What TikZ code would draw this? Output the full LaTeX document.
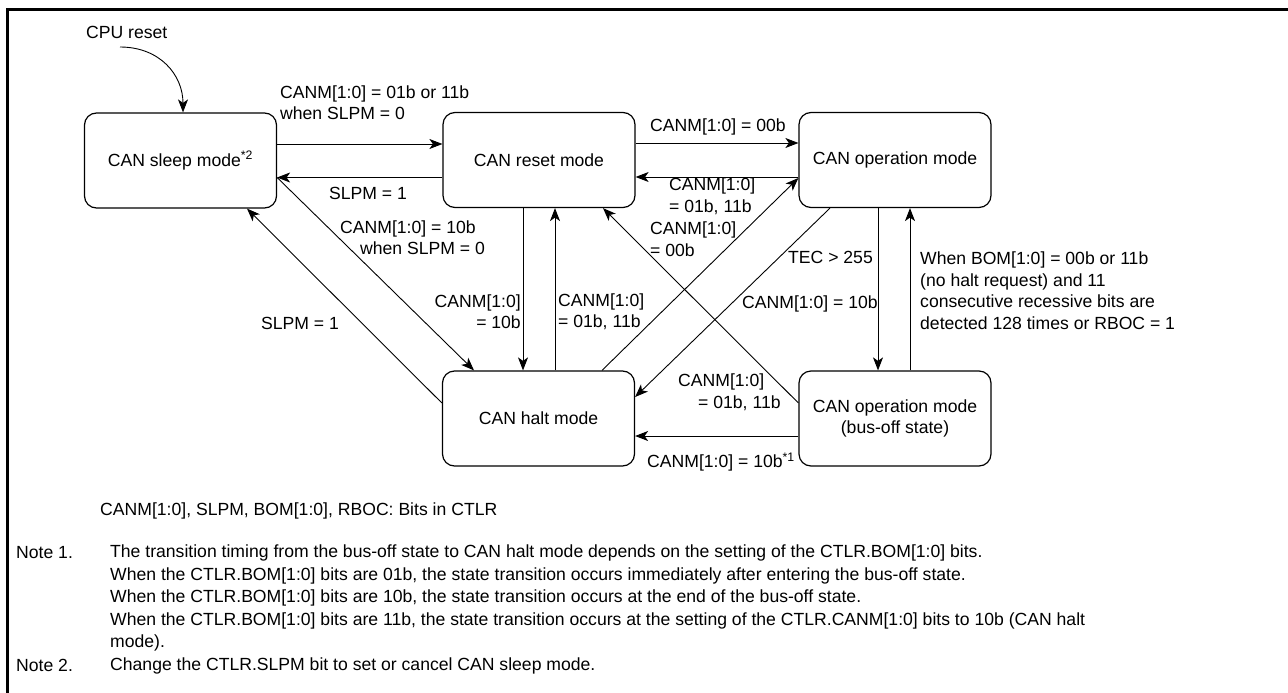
\documentclass[tikz,border=0pt]{standalone}
\usepackage{fontspec}
\setmainfont{Liberation Sans}
\usetikzlibrary{arrows.meta,calc}
\newcommand\lblfont{\fontsize{17.6}{21.5}\selectfont}
\newcommand\notefont{\fontsize{17.6}{22.5}\selectfont}
\begin{document}
\begin{tikzpicture}[x=1pt,y=-1pt,
  state/.style={draw, line width=1.2pt, rounded corners=12pt, minimum width=192pt, minimum height=95pt, inner sep=0pt, font=\lblfont, align=center},
  arr/.style={line width=0.9pt, -{Stealth[length=13pt,width=10pt,inset=3.5pt]}},
  lbl/.style={inner sep=0pt, font=\lblfont, align=left},
  note/.style={inner sep=0pt, font=\notefont, align=left}]
\useasboundingbox (0,0) rectangle (1288,693);
\fill[white] (0,0) rectangle (1288,693);
\draw[line width=3pt] (7.5,693) -- (7.5,9.5) -- (1288,9.5);

% states
\node[state] (sleep) at (180.5,160.5) {CAN sleep mode\textsuperscript{*2}};
\node[state] (reset) at (539,160) {CAN reset mode};
\node[state] (op) at (895,160) {CAN operation mode};
\node[state] (halt) at (538.5,418.5) {CAN halt mode};
\node[state] (busoff) at (895,418.5) {CAN operation mode\\(bus-off state)};

% CPU reset
\node[lbl, anchor=west] (lcpu) at (86,32) {CPU reset};
\coordinate (cpu) at (120,47);
\draw[arr] (cpu) .. controls (160,47) and (183,75) .. ([xshift=2.5pt]sleep.north);

% connectors
\coordinate (a1) at ([yshift=16.5pt]sleep.east);
\draw[arr] (a1) -- (a1 -| reset.west);
\coordinate (a2) at ([yshift=-17.5pt]reset.west);
\draw[arr] (a2) -- (a2 -| sleep.east);
\coordinate (a3) at ([yshift=17pt]reset.east);
\draw[arr] (a3) -- (a3 -| op.west);
\coordinate (a4) at ([yshift=-17pt]op.west);
\draw[arr] (a4) -- (a4 -| reset.east);
\draw[arr] (a2 -| sleep.east) -- ([xshift=-64.5pt]halt.north);
\draw[arr] ([yshift=15.5pt]halt.west) -- ([xshift=66.5pt]sleep.south);
\coordinate (a5) at ([xshift=-16pt]reset.south);
\draw[arr] (a5) -- (a5 |- halt.north);
\coordinate (a6) at ([xshift=16.5pt]halt.north);
\draw[arr] (a6) -- (a6 |- reset.south);
\draw[arr] ([xshift=63.5pt]halt.north) -- ([yshift=-18pt]op.west);
\draw[arr] ([xshift=-65pt]op.south) -- ([yshift=21.5pt]halt.east);
\coordinate (a7) at ([xshift=-17pt]op.south);
\draw[arr] (a7) -- (a7 |- busoff.north);
\coordinate (a8) at ([xshift=15pt]busoff.north);
\draw[arr] (a8) -- (a8 |- op.south);
\draw[arr] ([yshift=15.5pt]busoff.west) -- ([xshift=64pt]reset.south);
\coordinate (a9) at ([yshift=-17.5pt]busoff.west);
\draw[arr] (a9) -- (a9 -| halt.east);

% labels
\node[lbl, anchor=west] (l1) at (280,102.5) {CANM[1:0] = 01b or 11b\\when SLPM = 0};
\node[lbl] (l2) at (368,193) {SLPM = 1};
\node[lbl, anchor=west] (l3) at (650,127) {CANM[1:0] = 00b};
\node[lbl, anchor=west] (l4) at (669,196) {CANM[1:0]\\= 01b, 11b};
\node[lbl, anchor=west] (l5) at (340,237.5) {CANM[1:0] = 10b\\\hspace*{20pt}when SLPM = 0};
\node[lbl, align=right, anchor=east] (l6) at (521,311.5) {CANM[1:0]\\= 10b};
\node[lbl, anchor=west] (l7) at (558,311.5) {CANM[1:0]\\= 01b, 11b};
\node[lbl, anchor=west] (l8) at (650,239) {CANM[1:0]\\= 00b};
\node[lbl, anchor=west] (l9) at (788,257) {TEC > 255};
\node[lbl, anchor=west] (l10) at (742,304) {CANM[1:0] = 10b};
\node[lbl, anchor=west] (l11) at (678,392) {CANM[1:0]\\\hspace*{20pt}= 01b, 11b};
\node[lbl, anchor=west] (l12) at (647,462) {CANM[1:0] = 10b\textsuperscript{*1}};
\node[lbl, anchor=west] (l13) at (920,290.5) {When BOM[1:0] = 00b or 11b\\(no halt request) and 11\\consecutive recessive bits are\\detected 128 times or RBOC = 1};
\node[lbl] (l14) at (300,323) {SLPM = 1};

% notes
\node[lbl, anchor=west] (key) at (100,511) {CANM[1:0], SLPM, BOM[1:0], RBOC: Bits in CTLR};
\node[note, anchor=west] (n1) at (16,553) {Note 1.};
\node[note, anchor=west] (n1t) at (110,598) {The transition timing from the bus-off state to CAN halt mode depends on the setting of the CTLR.BOM[1:0] bits.\\When the CTLR.BOM[1:0] bits are 01b, the state transition occurs immediately after entering the bus-off state.\\When the CTLR.BOM[1:0] bits are 10b, the state transition occurs at the end of the bus-off state.\\When the CTLR.BOM[1:0] bits are 11b, the state transition occurs at the setting of the CTLR.CANM[1:0] bits to 10b (CAN halt\\mode).};
\node[note, anchor=west] (n2) at (16,665.5) {Note 2.};
\node[note, anchor=west] (n2t) at (110,665.5) {Change the CTLR.SLPM bit to set or cancel CAN sleep mode.};
\end{tikzpicture}
\end{document}
